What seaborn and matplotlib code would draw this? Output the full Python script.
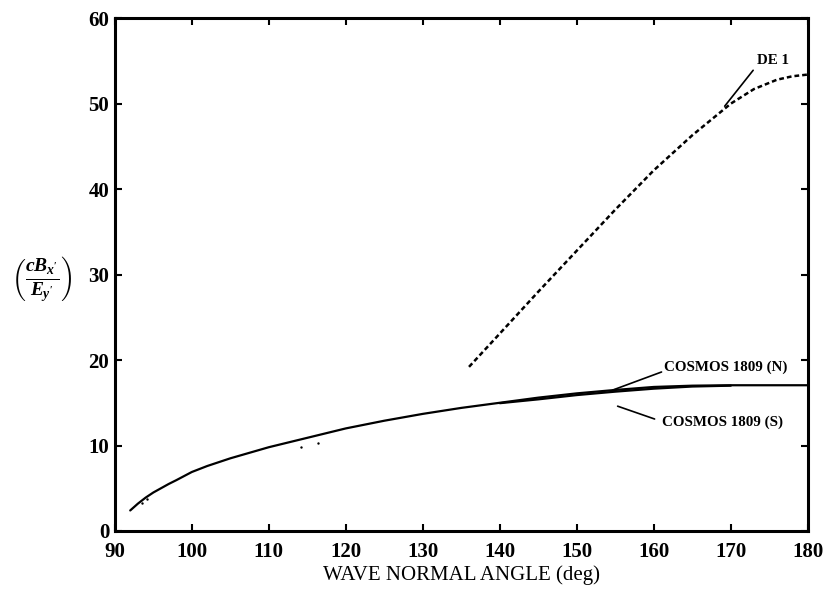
import pandas as pd
import matplotlib.pyplot as plt
import numpy as np
import seaborn as sns

sns.set_theme(style="ticks")
plt.rcParams['font.family'] = ['Liberation Serif', 'DejaVu Serif']
plt.rcParams['mathtext.fontset'] = 'custom'
plt.rcParams['mathtext.it'] = 'Liberation Serif:italic:bold'
plt.rcParams['mathtext.rm'] = 'Liberation Serif:bold'
plt.rcParams['text.color'] = 'black'
plt.rcParams['axes.labelcolor'] = 'black'

# COSMOS 1809 curves
cosmos_angle = [92, 93, 94, 95, 96, 97, 98, 100, 102, 105, 110, 115, 120, 125,
                130, 135, 140, 145, 150, 155, 160, 165, 170, 175, 180]
cosmos_n = [2.4, 3.2, 3.9, 4.5, 5.0, 5.5, 5.95, 6.9, 7.6, 8.5, 9.8, 10.9, 12.0, 12.9,
            13.7, 14.4, 15.0, 15.6, 16.1, 16.5, 16.85, 17.0, 17.05, 17.05, 17.05]
cosmos_s_angle = [140, 145, 150, 155, 160, 165, 170]
cosmos_s = [14.95, 15.4, 15.9, 16.3, 16.65, 16.9, 17.0]

# DE 1 curve
de1_angle = [136, 140, 145, 150, 155, 160, 165, 170, 173, 176, 178, 180]
de1_ratio = [19.2, 23.1, 28.0, 32.8, 37.6, 42.2, 46.3, 50.0, 51.7, 52.8, 53.2, 53.4]

# stray points
dots_angle = [114.2, 116.4, 93.5, 94.2]
dots_ratio = [9.8, 10.3, 3.3, 3.7]

n_df = pd.DataFrame({'angle': cosmos_angle, 'ratio': cosmos_n})
s_df = pd.DataFrame({'angle': cosmos_s_angle, 'ratio': cosmos_s})
de_df = pd.DataFrame({'angle': de1_angle, 'ratio': de1_ratio})
dot_df = pd.DataFrame({'angle': dots_angle, 'ratio': dots_ratio})

fig = plt.figure(figsize=(8.26, 5.97), dpi=100)
ax = fig.add_axes([0.139, 0.1106, 0.839, 0.859])

sns.lineplot(data=n_df, x='angle', y='ratio', ax=ax, color='black', lw=1.6)
sns.lineplot(data=s_df, x='angle', y='ratio', ax=ax, color='black', lw=1.6)
sns.lineplot(data=de_df, x='angle', y='ratio', ax=ax, color='black', lw=1.8,
             linestyle=(0, (1.9, 1.2)))
sns.scatterplot(data=dot_df, x='angle', y='ratio', ax=ax, color='black', s=3,
                linewidth=0)

ax.set_xlim(90, 180)
ax.set_ylim(0, 60)
ax.set_xticks(np.arange(90, 181, 10))
ax.set_yticks(np.arange(0, 61, 10))
for lab in ax.get_xticklabels() + ax.get_yticklabels():
    lab.set_fontweight('bold')
ax.tick_params(direction='in', top=True, right=True, length=5, width=1.5,
               labelsize=15, colors='black')
ax.tick_params(axis='x', pad=8)
ax.tick_params(axis='y', pad=4)
for sp in ax.spines.values():
    sp.set_linewidth(2.2)
    sp.set_color('black')

ax.set_xlabel('WAVE NORMAL ANGLE (deg)', fontsize=15, labelpad=2, color='black')
ax.set_ylabel(r'$\left(\frac{cB_{x^\prime}}{E_{y^\prime}}\right)$',
              fontsize=20, rotation=0, va='center', color='black')
ax.yaxis.set_label_coords(-0.105, 0.49)

kw = dict(fontsize=10.8, fontweight='bold', color='black', va='center', ha='left')
ax.text(173.4, 55.0, 'DE 1', **kw)
ax.plot([172.9, 169.2], [53.9, 49.7], color='black', lw=1.2)
ax.text(161.3, 19.1, 'COSMOS 1809 (N)', **kw)
ax.plot([161.0, 154.7], [18.6, 16.5], color='black', lw=1.2)
ax.text(161.0, 12.7, 'COSMOS 1809 (S)', **kw)
ax.plot([160.1, 155.3], [13.1, 14.6], color='black', lw=1.2)

plt.savefig('out.png', dpi=100)
